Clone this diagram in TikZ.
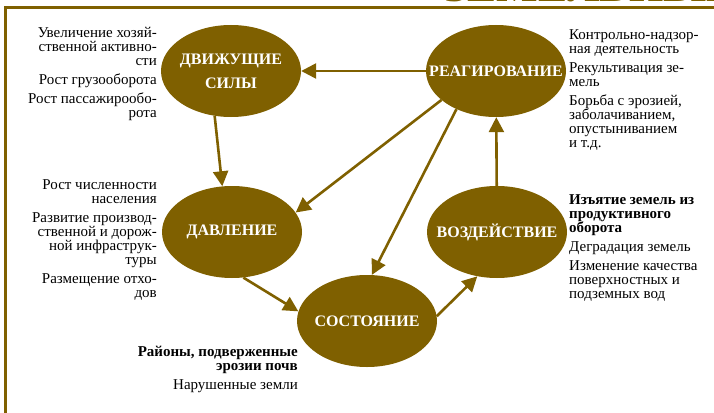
\documentclass[tikz,border=0pt]{standalone}
\usepackage{fontspec}
\setmainfont{Liberation Serif}
\usepackage{xcolor}
\usetikzlibrary{arrows.meta,shapes.geometric}
\definecolor{olivebrown}{RGB}{127,96,0}

\begin{document}
\begin{tikzpicture}[
    x=1pt, y=-1pt,
    stage/.style={ellipse, fill=olivebrown, minimum width=140pt, minimum height=92pt, inner sep=0pt, align=center, text=white, font=\bfseries\fontsize{16}{24}\selectfont},
    note/.style={inner sep=0pt, font=\fontsize{15}{14}\selectfont},
    arrow/.style={-{Triangle[length=15pt, width=15pt]}, line width=2.6pt, draw=olivebrown},
    frame/.style={draw=olivebrown, line width=2.5pt},
]
    \path[use as bounding box, clip] (0,0) rectangle (714,412);
    \node[anchor=base east, inner sep=0pt, text=olivebrown, font=\bfseries\fontsize{44}{44}\selectfont] (title) at (736,2) {ЗЕМЕЛЬНЫЕ};
    \draw[frame] (5.5,420) -- (5.5,7.5) -- (720,7.5);

    % text boxes of zero width, so the ellipses keep their size
    \node[stage] (dvizh) at (231,71) {\makebox[0pt]{ДВИЖУЩИЕ}\\\makebox[0pt]{СИЛЫ}};
    \node[stage] (reag) at (496,71) {\makebox[0pt]{РЕАГИРОВАНИЕ}};
    \node[stage] (davl) at (232,232) {\makebox[0pt]{ДАВЛЕНИЕ}};
    \node[stage] (vozd) at (497,232) {\makebox[0pt]{ВОЗДЕЙСТВИЕ}};
    \node[stage] (sost) at (367,321) {\makebox[0pt]{СОСТОЯНИЕ}};

    \node[note, anchor=north east, align=right] (dvizh_n) at (157,27) {Увеличение хозяй-\\ственной активно-\\сти\\[5pt]Рост грузооборота\\[5pt]Рост пассажирообо-\\рота};
    \node[note, anchor=north east, align=right] (davl_n) at (157,179) {Рост численности\\населения\\[5pt]Развитие производ-\\ственной и дорож-\\ной инфраструк-\\туры\\[5pt]Размещение отхо-\\дов};
    \node[note, anchor=north west, align=left] (reag_n) at (569,29) {Контрольно-надзор-\\ная деятельность\\[5pt]Рекультивация зе-\\мель\\[5pt]Борьба с эрозией,\\заболачиванием,\\опустыниванием\\и т.д.};
    \node[note, anchor=north west, align=left] (vozd_n) at (569,194) {\textbf{Изъятие земель из}\\\textbf{продуктивного}\\\textbf{оборота}\\[5pt]Деградация земель\\[5pt]Изменение качества\\поверхностных и\\подземных вод};
    \node[note, anchor=north east, align=right] (sost_n) at (298,346) {\textbf{Районы, подверженные}\\\textbf{эрозии почв}\\[5pt]Нарушенные земли};

    \draw[arrow] (reag) -- (dvizh);
    \draw[arrow] (dvizh.-110) -- (davl.102);
    \draw[arrow] (reag.-152) -- (davl.17);
    \draw[arrow] (reag.-136) -- (sost.84);
    \draw[arrow] (davl.-76) -- (sost.172);
    \draw[arrow] (sost.4) -- (vozd.-114);
    \draw[arrow] (vozd) -- (reag);
\end{tikzpicture}
\end{document}
